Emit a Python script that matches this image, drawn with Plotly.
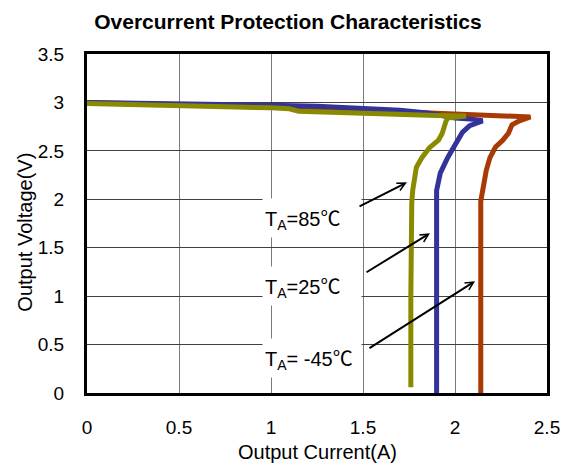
import plotly.graph_objects as go

# ---- data ----
x_m45 = [0, 0.25, 0.5, 0.75, 1.0, 1.25, 1.5, 1.75, 2.0, 2.2, 2.35, 2.41, 2.35, 2.31, 2.29, 2.26, 2.22, 2.19, 2.17, 2.15, 2.14, 2.14, 2.14]
y_m45 = [3.00, 2.99, 2.98, 2.97, 2.96, 2.94, 2.92, 2.90, 2.88, 2.865, 2.855, 2.85, 2.81, 2.77, 2.68, 2.61, 2.54, 2.43, 2.30, 2.12, 1.98, 1.0, 0]

x_25 = [0, 0.25, 0.5, 0.75, 1.0, 1.25, 1.5, 1.7, 1.85, 2.0, 2.1, 2.15, 2.08, 2.04, 2.0, 1.96, 1.92, 1.90, 1.90, 1.90]
y_25 = [3.00, 2.995, 2.99, 2.98, 2.97, 2.96, 2.94, 2.92, 2.89, 2.84, 2.825, 2.81, 2.76, 2.69, 2.56, 2.43, 2.27, 2.09, 1.0, 0]

x_85 = [0, 0.25, 0.5, 0.75, 1.0, 1.1, 1.15, 1.4, 1.45, 1.7, 1.9, 2.06, 1.96, 1.95, 1.93, 1.91, 1.86, 1.82, 1.79, 1.77, 1.765, 1.76, 1.76]
y_85 = [2.99, 2.975, 2.965, 2.955, 2.945, 2.935, 2.91, 2.895, 2.88, 2.87, 2.865, 2.86, 2.84, 2.80, 2.68, 2.61, 2.53, 2.43, 2.33, 2.09, 1.96, 1.0, 0.06]

DEG = '<span style="font-family:Noto Sans CJK SC">℃</span>'
label_texts = ["T<sub>A</sub>=85" + DEG, "T<sub>A</sub>=25" + DEG, "T<sub>A</sub>= -45" + DEG]
label_x = [0.951, 0.951, 0.951]
label_y = [1.81, 1.10, 0.36]

arrow_tail_x = [1.473, 1.511, 1.527]
arrow_tail_y = [1.918, 1.237, 0.454]
arrow_head_x = [1.739, 1.864, 2.109]
arrow_head_y = [2.175, 1.649, 1.155]

x_ticks = [0, 0.5, 1, 1.5, 2, 2.5]
y_ticks = [0, 0.5, 1, 1.5, 2, 2.5, 3, 3.5]

FONT = "Liberation Sans, Arial, Noto Sans CJK SC, sans-serif"

# page has an 8px body margin; figure coordinates = page - 8
W, H = 568, 457

fig = go.Figure()
fig.add_trace(go.Scatter(x=x_m45, y=y_m45, mode="lines", line=dict(color="#A83A06", width=5), name="-45"))
fig.add_trace(go.Scatter(x=x_25, y=y_25, mode="lines", line=dict(color="#333399", width=5), name="25"))
fig.add_trace(go.Scatter(x=x_85, y=y_85, mode="lines", line=dict(color="#8A8A00", width=5), name="85"))

annotations = []
for t, lx, ly in zip(label_texts, label_x, label_y):
    annotations.append(dict(x=lx, y=ly, xref="x", yref="y", text=t, showarrow=False,
                            xanchor="left", yanchor="middle", align="left",
                            width=94, height=34, borderpad=2, bgcolor="white",
                            font=dict(family=FONT, size=20, color="black")))
for tx, ty, hx, hy in zip(arrow_tail_x, arrow_tail_y, arrow_head_x, arrow_head_y):
    annotations.append(dict(x=hx, y=hy, ax=tx, ay=ty, xref="x", yref="y", axref="x", ayref="y",
                            text="", showarrow=True, arrowhead=5, arrowsize=0.8, arrowwidth=2,
                            arrowcolor="black", standoff=0))

annotations.append(dict(x=0.5, y=0, xref="x domain", yref="paper", yshift=-59, text="Output Current(A)",
                        showarrow=False, xanchor="center", yanchor="middle",
                        font=dict(family=FONT, size=20, color="black")))
annotations.append(dict(x=0, y=0.473, xref="paper", yref="paper", xshift=-62, text="Output Voltage(V)",
                        showarrow=False, xanchor="center", yanchor="middle", textangle=-90,
                        font=dict(family=FONT, size=20, color="black")))

fig.update_layout(
    width=W, height=H,
    margin=dict(l=79, r=29, t=46, b=72),
    paper_bgcolor="white", plot_bgcolor="white",
    showlegend=False,
    title=dict(text="<b>Overcurrent Protection Characteristics</b>", x=280 / W, xref="container",
               y=1 - 14 / H, yref="container", xanchor="center", yanchor="middle",
               font=dict(family=FONT, size=21, color="black")),
    annotations=annotations,
    font=dict(family=FONT, color="black"),
)
fig.update_xaxes(range=[0, 2.5], tickvals=x_ticks, ticktext=[f"{v:g}" for v in x_ticks],
                 showgrid=True, gridcolor="#7a7a7a", gridwidth=1, zeroline=False,
                 showline=True, linecolor="black", linewidth=3, mirror=True,
                 ticks="", ticklabelstandoff=15, tickfont=dict(family=FONT, size=19, color="black"))
fig.update_yaxes(range=[0, 3.5], tickvals=y_ticks, ticktext=[f"{v:g}" for v in y_ticks],
                 showgrid=True, gridcolor="#404040", gridwidth=1, zeroline=False,
                 showline=True, linecolor="black", linewidth=3, mirror=True,
                 ticks="", ticklabelstandoff=16, tickfont=dict(family=FONT, size=19, color="black"))

fig.write_html("out.html")
